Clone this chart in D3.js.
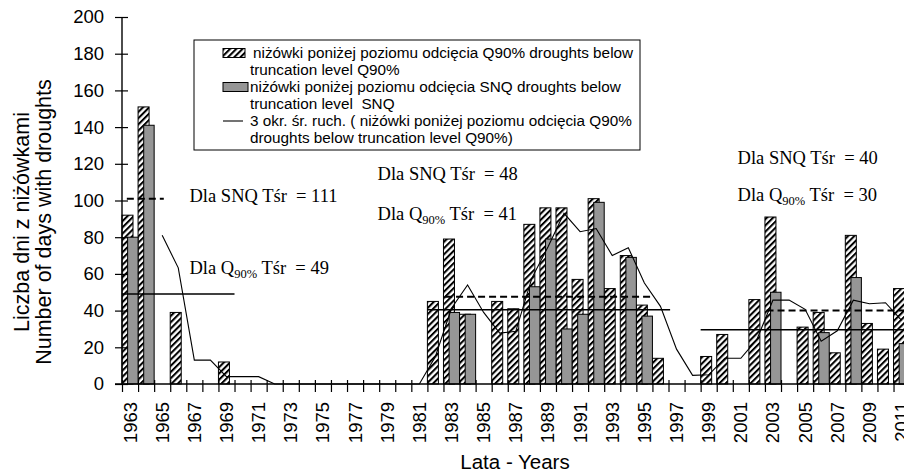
<!DOCTYPE html>
<html>
<head>
	<title>Niżówki</title>
	<meta charset='utf-8'>
	<style>
		body {
			margin: 0;
			background-color: #fff;
		}

		.axis text {
			font-family: 'Liberation Sans', Arial, sans-serif;
			font-size: 18.5px;
			fill: #000;
		}

		.axis line {
			stroke: #000;
			stroke-width: 1.2px;
		}

		.axis-line {
			stroke: #000;
			stroke-width: 1.4px;
		}

		.title {
			font-family: 'Liberation Sans', Arial, sans-serif;
			font-size: 21.5px;
			fill: #000;
		}

		.title-x {
			font-size: 20.5px;
		}

		.bar-q90 {
			fill: url(#hatch);
			stroke: #000;
			stroke-width: 1px;
		}

		.bar-snq {
			fill: #969696;
			stroke: #000;
			stroke-width: 1px;
		}

		.line-ma {
			fill: none;
			stroke: #000;
			stroke-width: 1.1px;
		}

		.mean-q90 {
			stroke: #000;
			stroke-width: 1.5px;
		}

		.mean-snq {
			stroke: #000;
			stroke-width: 2px;
			stroke-dasharray: 7, 4;
		}

		.note {
			font-family: 'Liberation Serif', 'Times New Roman', serif;
			font-size: 18.5px;
			fill: #000;
			white-space: pre;
		}

		.note tspan {
			fill: #000;
		}

		.legend text {
			font-family: 'Liberation Sans', Arial, sans-serif;
			font-size: 15.3px;
			fill: #000;
			white-space: pre;
		}
	</style>
</head>
<body>
<div id="chart"></div>
<script src='https://d3js.org/d3.v7.min.js'></script>
<script>
	'use strict';

	// Lata
	const years = [
		1963, 1964, 1965, 1966, 1967, 1968, 1969, 1970, 1971, 1972,
		1973, 1974, 1975, 1976, 1977, 1978, 1979, 1980, 1981,
		1982, 1983, 1984, 1985, 1986, 1987, 1988, 1989, 1990, 1991,
		1992, 1993, 1994, 1995, 1996, 1997, 1998, 1999, 2000, 2001,
		2002, 2003, 2004, 2005, 2006, 2007, 2008, 2009, 2010, 2011
	];

	// niżówki poniżej poziomu odcięcia Q90%
	const q90 = [
		92, 151, 0, 39, 0, 0, 12, 0, 0, 0,
		0, 0, 0, 0, 0, 0, 0, 0, 0,
		45, 79, 38, 0, 45, 41, 87, 96, 96, 57,
		101, 52, 70, 43, 14, 0, 0, 15, 27, 0,
		46, 91, 0, 31, 39, 17, 81, 33, 19, 52
	];

	// niżówki poniżej poziomu odcięcia SNQ
	const snq = [
		80, 141, 0, 0, 0, 0, 0, 0, 0, 0,
		0, 0, 0, 0, 0, 0, 0, 0, 0,
		0, 39, 38, 0, 0, 0, 53, 79, 30, 38,
		99, 0, 69, 37, 0, 0, 0, 0, 0, 0,
		0, 50, 0, 0, 28, 0, 58, 0, 0, 22
	];

	// 3 okr. śr. ruch.
	const movingAvg = [
		null, null, 81, 63.3, 13, 13, 4, 4, 4, 0,
		0, 0, 0, 0, 0, 0, 0, 0, 0,
		15, 41.3, 54, 39, 27.7, 28.7, 57.7, 74.7, 93, 83,
		84.7, 70, 74.3, 55, 42.3, 19, 4.7, 5, 14, 14,
		24.3, 45.7, 45.7, 40.7, 23.3, 29, 45.7, 43.7, 44.3, 34.7
	];

	// Średnie w okresach (lata jako granice)
	const meanQ90 = [
		{value: 49, from: 1963, to: 1970},
		{value: 40.5, from: 1982, to: 1997.1},
		{value: 29.5, from: 1999, to: 2012}
	];
	const meanSNQ = [
		{value: 101, from: 1963.3, to: 1965.6},
		{value: 47.6, from: 1983.1, to: 1996},
		{value: 40, from: 2003.1, to: 2012}
	];

	// Podpisy średnich czasów trwania
	const notes = [
		{series: 'SNQ', mean: 111, year: 1967.2, level: 99},
		{series: 'Q', mean: 49, year: 1967.2, level: 60},
		{series: 'SNQ', mean: 48, year: 1978.9, level: 111},
		{series: 'Q', mean: 41, year: 1978.9, level: 89.5},
		{series: 'SNQ', mean: 40, year: 2001.3, level: 120},
		{series: 'Q', mean: 30, year: 2001.3, level: 99.5}
	];

	const yTicks = [0, 20, 40, 60, 80, 100, 120, 140, 160, 180, 200];
	const yearLabels = years.filter((y, i) => i % 2 === 0);

	const legendItems = [
		['niżówki poniżej poziomu odcięcia Q90% droughts below', 'truncation level Q90%'],
		['niżówki poniżej poziomu odcięcia SNQ droughts below', 'truncation level  SNQ'],
		['3 okr. śr. ruch. ( niżówki poniżej poziomu odcięcia Q90%', 'droughts below truncation level Q90%)']
	];

	const W = 904, H = 473;
	const plot = {left: 122, right: 909.6, top: 17, bottom: 384};

	const svg = d3.select('div#chart').append('svg')
		.attr('width', W)
		.attr('height', H);

	const defs = svg.append('defs');
	const hatch = defs.append('pattern')
		.attr('id', 'hatch')
		.attr('patternUnits', 'userSpaceOnUse')
		.attr('width', 4.4)
		.attr('height', 4.4)
		.attr('patternTransform', 'rotate(45)');
	hatch.append('rect')
		.attr('width', 4.4).attr('height', 4.4).attr('fill', '#fff');
	hatch.append('line')
		.attr('x1', 1).attr('y1', 0).attr('x2', 1).attr('y2', 4.4)
		.attr('stroke', '#000').attr('stroke-width', 2.1);

	const xBand = d3.scaleBand().domain(years).range([plot.left, plot.right]);
	const xYear = d3.scaleLinear().domain([1963, 2012]).range([plot.left, plot.right]);
	const yScale = d3.scaleLinear().domain([0, 200]).range([plot.bottom, plot.top]);
	const bw = xBand.bandwidth();

	const rows = years.map((year, i) => ({year: year, q90: q90[i], snq: snq[i], ma: movingAvg[i]}));

	// Słupki Q90% (kreskowane)
	svg.append('g').selectAll('rect')
		.data(rows.filter(d => d.q90 > 0))
		.enter().append('rect')
		.attr('class', 'bar-q90')
		.attr('x', d => xBand(d.year))
		.attr('width', bw * 0.685)
		.attr('y', d => yScale(d.q90))
		.attr('height', d => yScale(0) - yScale(d.q90));

	// Słupki SNQ (szare)
	svg.append('g').selectAll('rect')
		.data(rows.filter(d => d.snq > 0))
		.enter().append('rect')
		.attr('class', 'bar-snq')
		.attr('x', d => xBand(d.year) + bw * 0.35)
		.attr('width', bw * 0.65)
		.attr('y', d => yScale(d.snq))
		.attr('height', d => yScale(0) - yScale(d.snq));

	// Średnia ruchoma
	const maLine = d3.line()
		.defined(d => d.ma !== null)
		.x(d => xBand(d.year) + bw / 2)
		.y(d => yScale(d.ma));
	svg.append('path')
		.datum(rows)
		.attr('class', 'line-ma')
		.attr('d', maLine);

	// Linie średnich
	svg.append('g').selectAll('line')
		.data(meanQ90)
		.enter().append('line')
		.attr('class', 'mean-q90')
		.attr('x1', d => xYear(d.from))
		.attr('x2', d => xYear(d.to))
		.attr('y1', d => yScale(d.value))
		.attr('y2', d => yScale(d.value));

	svg.append('g').selectAll('line')
		.data(meanSNQ)
		.enter().append('line')
		.attr('class', 'mean-snq')
		.attr('x1', d => xYear(d.from))
		.attr('x2', d => xYear(d.to))
		.attr('y1', d => yScale(d.value))
		.attr('y2', d => yScale(d.value));

	// Oś Y
	const yAxis = svg.append('g')
		.attr('class', 'axis axis__y')
		.attr('transform', 'translate(' + plot.left + ',0)')
		.call(d3.axisLeft(yScale).tickValues(yTicks).tickSize(7).tickSizeOuter(0).tickPadding(11));
	yAxis.select('.domain').remove();
	yAxis.selectAll('.tick line').attr('x2', -7).attr('x1', 6);

	// Oś X: kreski na granicach lat
	const xAxis = svg.append('g')
		.attr('class', 'axis axis__x')
		.attr('transform', 'translate(0,' + plot.bottom + ')')
		.call(d3.axisBottom(xYear).tickValues(years.concat([2012])).tickSize(8).tickSizeOuter(0).tickFormat(''));
	xAxis.select('.domain').remove();
	xAxis.selectAll('.tick line').attr('y1', -4);

	// Podpisy lat
	const xLabels = svg.append('g')
		.attr('class', 'axis axis__xlabels')
		.attr('transform', 'translate(0,' + plot.bottom + ')')
		.call(d3.axisBottom(xBand).tickValues(yearLabels).tickSize(0).tickSizeOuter(0));
	xLabels.select('.domain').remove();
	xLabels.selectAll('.tick text')
		.attr('transform', 'rotate(-90)')
		.attr('x', -18)
		.attr('y', 0)
		.attr('dy', '0.35em')
		.style('text-anchor', 'end');

	svg.append('line')
		.attr('class', 'axis-line')
		.attr('x1', plot.left).attr('x2', plot.left)
		.attr('y1', plot.top).attr('y2', plot.bottom);
	svg.append('line')
		.attr('class', 'axis-line')
		.attr('x1', plot.left - 7).attr('x2', W)
		.attr('y1', plot.bottom).attr('y2', plot.bottom);

	// Tytuły osi
	svg.append('text')
		.attr('class', 'title')
		.attr('transform', 'translate(21,222) rotate(-90)')
		.attr('text-anchor', 'middle')
		.attr('dy', '0.35em')
		.text('Liczba dni z niżówkami');
	svg.append('text')
		.attr('class', 'title')
		.attr('transform', 'translate(43,222) rotate(-90)')
		.attr('text-anchor', 'middle')
		.attr('dy', '0.35em')
		.text('Number of days with droughts');
	svg.append('text')
		.attr('class', 'title title-x')
		.attr('x', 515)
		.attr('y', 469)
		.attr('text-anchor', 'middle')
		.text('Lata - Years');

	// Podpisy średnich
	notes.forEach(n => {
		const t = svg.append('text')
			.attr('class', 'note')
			.attr('x', xYear(n.year))
			.attr('y', yScale(n.level));
		if (n.series === 'SNQ') {
			t.text('Dla SNQ Tśr  = ' + n.mean);
		} else {
			t.append('tspan').text('Dla Q');
			t.append('tspan').attr('font-size', '12.5px').attr('dy', 4).text('90%');
			t.append('tspan').attr('dy', -4).text(' Tśr  = ' + n.mean);
		}
	});

	// Legenda
	const legend = svg.append('g')
		.attr('class', 'legend')
		.attr('transform', 'translate(194,40)');
	legend.append('rect')
		.attr('width', 446)
		.attr('height', 110)
		.attr('fill', '#fff')
		.attr('stroke', '#000')
		.attr('stroke-width', 1);

	const rowY = [[18, 35], [52, 69], [86, 103]];
	legend.append('rect')
		.attr('x', 29).attr('y', 8.5).attr('width', 22).attr('height', 9)
		.attr('fill', 'url(#hatch)').attr('stroke', '#000');
	legend.append('rect')
		.attr('x', 29).attr('y', 42.5).attr('width', 25).attr('height', 9)
		.attr('fill', '#969696').attr('stroke', '#000');
	legend.append('line')
		.attr('x1', 29).attr('x2', 49).attr('y1', 81).attr('y2', 81)
		.attr('stroke', '#000').attr('stroke-width', 1.1);

	legendItems.forEach((item, i) => {
		legend.append('text')
			.attr('x', i === 0 ? 59 : 56)
			.attr('y', rowY[i][0])
			.text(item[0]);
		legend.append('text')
			.attr('x', 56)
			.attr('y', rowY[i][1])
			.text(item[1]);
	});
</script>
</body>
</html>
